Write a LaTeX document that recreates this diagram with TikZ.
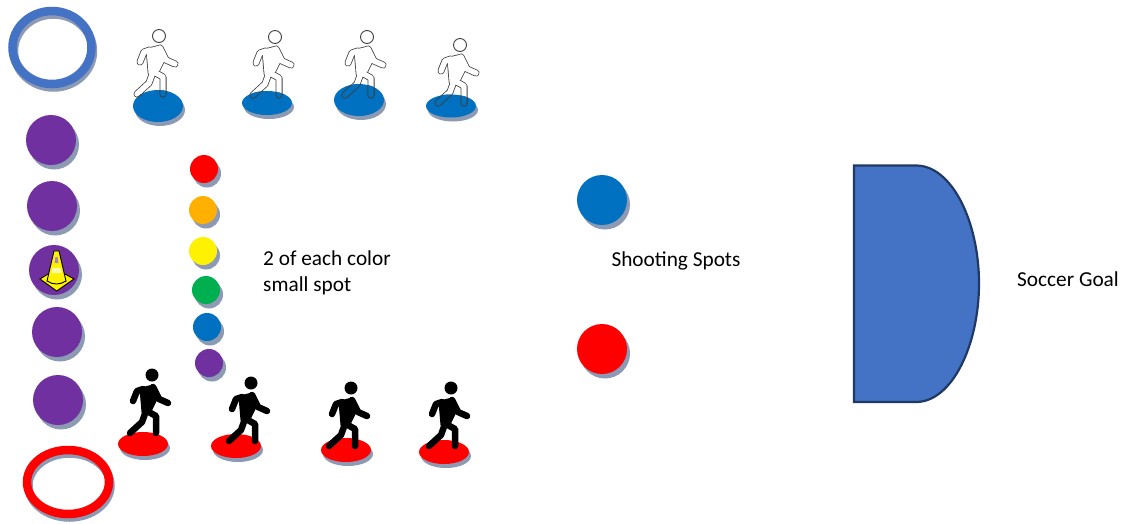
\documentclass[tikz,border=0pt]{standalone}
\usepackage{xcolor}
\usepackage{fontspec}
\setmainfont{Carlito}
\usetikzlibrary{positioning,shapes.geometric,shadows}

\definecolor{shade}{HTML}{8C9AB3}
\definecolor{spotblue}{HTML}{0070C0}
\definecolor{spotpurple}{HTML}{7030A0}
\definecolor{spotorange}{HTML}{FFB000}
\definecolor{spotgreen}{HTML}{00B050}
\definecolor{goalblue}{HTML}{4472C4}
\definecolor{goalline}{HTML}{1F3864}

\newcommand{\walkerlimbs}{
  (-6,36) -- (-10,47) -- (-22,58)
  (-5,36) -- (4,41) -- (4,58)
  (-9,14) -- (-15,16) -- (-19,26)
  (1,12) -- (7,24) -- (16,28)
}
\newcommand{\walkertorso}{(-11,14) -- (1,11) -- (5,22) -- (-1,34) -- (-9,37) -- cycle}

\begin{document}
\begin{tikzpicture}[
  x=1pt, y=-1pt,
  every node/.style={font=\fontsize{21.3}{26}\selectfont},
  label/.style={align=left, inner sep=0pt},
  spot/.style={ellipse, inner sep=0pt, outer sep=0pt, fill=#1},
  round shadow/.style={drop shadow={shadow xshift=3pt, shadow yshift=-4.5pt, fill=shade, opacity=1}},
  big/.style={spot=#1, round shadow, minimum width=50pt, minimum height=50pt},
  small/.style={spot=#1, round shadow, minimum width=28pt, minimum height=28pt},
  flat/.style={spot=#1, minimum width=50pt,
    drop shadow={shadow xshift=2pt, shadow yshift=-4pt, fill=shade, opacity=1}},
  ring/.style={ellipse, inner sep=0pt, outer sep=0pt, draw=#1, line width=8.5pt,
    drop shadow={shadow xshift=1.5pt, shadow yshift=-3.5pt, draw=shade, fill=none, line width=8.5pt, opacity=1}},
  limb/.style={line cap=round, line join=round},
  pics/blackwalker/.style={code={
    \fill (0,0) circle (6.5);
    \draw[limb, line width=6.5pt] \walkerlimbs;
    \draw[limb, line width=3pt, fill] \walkertorso;
  }},
  pics/hollowwalker/.style={code={
    \draw[limb, line width=7pt, draw=black!75] \walkerlimbs;
    \draw[limb, line width=4.6pt, draw=black!75] \walkertorso;
    \draw[limb, line width=5.4pt, draw=#1] \walkerlimbs;
    \draw[limb, line width=3pt, draw=#1, fill=#1] \walkertorso;
    \draw[fill=#1, line width=0.9pt, draw=black!75] (0,0) circle (6.5);
  }}
]
\useasboundingbox (0,0) rectangle (1123,523);

% rings
\node[ring=goalblue, minimum width=79pt, minimum height=73pt] (bluering) at (52,47.5) {};
\node[ring=red, minimum width=82pt, minimum height=64pt] (redring) at (68,482) {};

% purple column
\foreach \i/\x/\y in {1/51/140, 2/52/206, 3/54/270, 4/57/332, 5/58/400}
  \node[big=spotpurple] (purple\i) at (\x,\y) {};

% cone on the middle spot
\draw[fill=yellow, line width=0.9pt] (40,279) -- (48,274) -- (65,274) -- (74,279) -- (56.7,291) -- cycle;
\draw[fill=yellow, line width=0.9pt] (54,251) -- (59,251) -- (66,281) .. controls (60,285) and (53,285) .. (47,281) -- cycle;
\fill[spotpurple!60!white] (55.5,257) -- (57.5,257) -- (58.5,263) -- (54.5,263) -- cycle;
\fill[white!70!yellow] (52.5,268) -- (60.5,268) -- (61.5,273) -- (51.5,273) -- cycle;

% small spots
\foreach \i/\c/\x/\y in {1/red/204/169, 2/spotorange/203/210, 3/yellow/203/251,
                         4/spotgreen/206/290, 5/spotblue/207/327, 6/spotpurple/209/363}
  \node[small=\c] (small\i) at (\x,\y) {};

% top row
\foreach \i/\x/\y/\h/\hx/\hy in {1/158/106/32/159/36, 2/267/103/24/275/37,
                                 3/359/100/32/367/37, 4/451/106/23/460/45} {
  \node[flat=spotblue, minimum height=\h pt] (top\i) at (\x,\y) {};
  \pic at (\hx,\hy) {hollowwalker=white};
  \begin{scope}
    \clip (\x,\y) ellipse [x radius=25, y radius=\h/2];
    \pic at (\hx,\hy) {hollowwalker=spotblue};
  \end{scope}
}

% bottom row
\foreach \i/\x/\y/\hx/\hy in {1/143/444/152/375, 2/236/446/251/383,
                              3/346/450/351/388, 4/444/452/451/388} {
  \node[flat=red, minimum height=24pt] (bottom\i) at (\x,\y) {};
  \pic at (\hx,\hy) {blackwalker};
}

% shooting spots
\node[big=spotblue] (shootblue) at (602,200) {};
\node[big=red] (shootred) at (602,349) {};

% goal
\draw[fill=goalblue, draw=goalline, line width=2.2pt]
  (854,165.5) -- (916,165.5) .. controls (952,165.5) and (979,222) .. (979,283.5)
  .. controls (979,345) and (952,402) .. (916,402) -- (854,402) -- cycle;

% labels
\node[label, anchor=north west] (colornote) at (263,250.5) {2 of each color\\small spot};
\node[label] (shootnote) at (676,260.5) {Shooting Spots};
\node[label] (goalnote) at (1068,279) {Soccer Goal};
\end{tikzpicture}
\end{document}
